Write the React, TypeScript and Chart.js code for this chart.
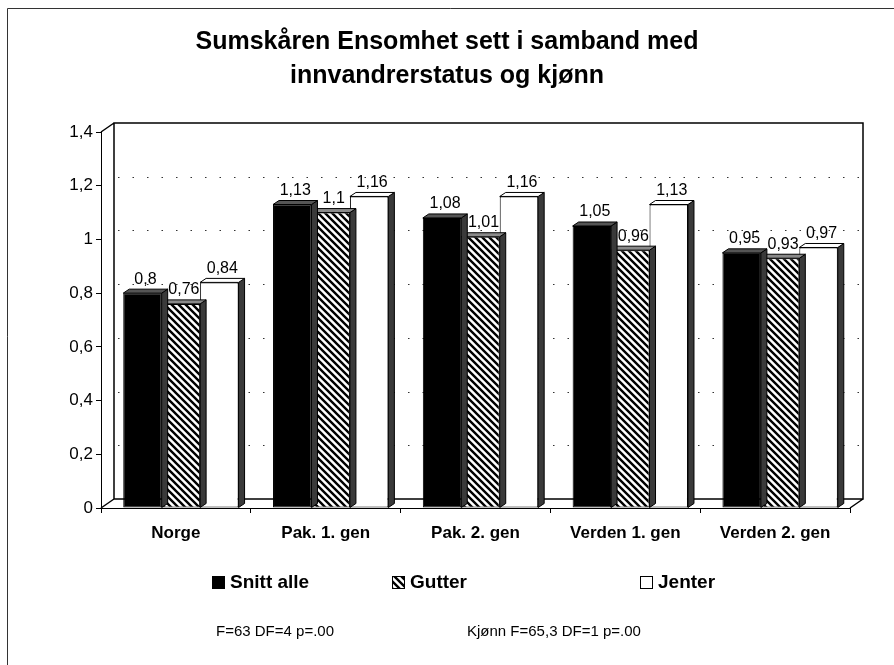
import { useEffect, useRef } from "react";
import { Chart, registerables } from "chart.js";

Chart.register(...registerables);

// ---------- data ----------
const categories = ["Norge", "Pak. 1. gen", "Pak. 2. gen", "Verden 1. gen", "Verden 2. gen"];
const seriesNames = ["Snitt alle", "Gutter", "Jenter"];
const snittAlle = [0.8, 1.13, 1.08, 1.05, 0.95];
const gutter = [0.76, 1.1, 1.01, 0.96, 0.93];
const jenter = [0.84, 1.16, 1.16, 1.13, 0.97];
const yTicks = [0, 0.2, 0.4, 0.6, 0.8, 1, 1.2, 1.4];
const titleLines = ["Sumskåren Ensomhet sett i samband med", "innvandrerstatus og kjønn"];
const footerTexts = ["F=63 DF=4 p=.00", "Kjønn F=65,3 DF=1 p=.00"];

// ---------- style ----------
const FONT = "'Liberation Sans', Arial, Helvetica, sans-serif";
const WALL_DX = 13;
const WALL_DY = -9;
const BAR_DX = 6;
const BAR_DY = -4;
const BAR_SHIFT = 5;
const legendX = [212, 392, 640];
const legendY = 582;
const footerX = [216, 467];
const footerY = 632;

const fmt = (v: number) => String(Number(v.toFixed(2))).replace(".", ",");

function makeHatch(): CanvasPattern | string {
  const s = 7;
  const c = document.createElement("canvas");
  c.width = s;
  c.height = s;
  const g = c.getContext("2d");
  if (!g) return "#888";
  g.fillStyle = "#fff";
  g.fillRect(0, 0, s, s);
  g.strokeStyle = "#000";
  g.lineWidth = 2.4;
  g.beginPath();
  g.moveTo(0, 0);
  g.lineTo(s, s);
  g.moveTo(-2, s - 2);
  g.lineTo(2, s + 2);
  g.moveTo(s - 2, -2);
  g.lineTo(s + 2, 2);
  g.stroke();
  return g.createPattern(c, "repeat") || "#888";
}

export default function App() {
  const ref = useRef<HTMLCanvasElement | null>(null);

  useEffect(() => {
    const canvas = ref.current;
    if (!canvas) return;
    const hatch = makeHatch();
    const fills: any[] = ["#000", hatch, "#fff"];
    const topFills = ["#555", "#8a8a8a", "#fff"];
    const seriesValues = [snittAlle, gutter, jenter];

    const deco = {
      id: "deco3d",
      afterDatasetsUpdate(chart: any) {
        chart.data.datasets.forEach((_: any, i: number) => {
          chart.getDatasetMeta(i).data.forEach((el: any) => {
            el.x += BAR_SHIFT;
          });
        });
      },
      beforeDraw(chart: any) {
        const ctx = chart.ctx as CanvasRenderingContext2D;
        const { left, right, top, bottom } = chart.chartArea;
        ctx.save();
        ctx.fillStyle = "#fff";
        ctx.fillRect(0, 0, chart.width, chart.height);
        // frame
        ctx.strokeStyle = "#333";
        ctx.lineWidth = 1;
        ctx.beginPath();
        ctx.moveTo(7.5, chart.height);
        ctx.lineTo(7.5, 8.5);
        ctx.lineTo(chart.width, 8.5);
        ctx.stroke();
        // walls and floor
        ctx.strokeStyle = "#000";
        ctx.lineWidth = 1.5;
        ctx.beginPath();
        ctx.rect(left + WALL_DX, top + WALL_DY, right - left, bottom - top);
        ctx.moveTo(left, top);
        ctx.lineTo(left + WALL_DX, top + WALL_DY);
        ctx.moveTo(left, bottom);
        ctx.lineTo(left + WALL_DX, bottom + WALL_DY);
        ctx.moveTo(right, bottom);
        ctx.lineTo(right + WALL_DX, bottom + WALL_DY);
        ctx.stroke();
        // dotted gridlines on back wall
        const ys = chart.scales.y;
        ctx.strokeStyle = "#333";
        ctx.lineWidth = 1.2;
        ctx.setLineDash([1.5, 13]);
        ys.ticks.forEach((t: any) => {
          if (t.value <= ys.min || t.value >= ys.max) return;
          const py = Math.round(ys.getPixelForValue(t.value) + WALL_DY) + 0.5;
          ctx.beginPath();
          ctx.moveTo(left + WALL_DX + 4, py);
          ctx.lineTo(right + WALL_DX, py);
          ctx.stroke();
        });
        ctx.restore();
      },
      beforeDatasetDraw(chart: any, args: any) {
        const ctx = chart.ctx as CanvasRenderingContext2D;
        const i = args.index;
        ctx.save();
        ctx.strokeStyle = "#000";
        ctx.lineWidth = 1;
        args.meta.data.forEach((el: any) => {
          const w = el.width;
          const l = el.x - w / 2;
          const r = el.x + w / 2;
          const y = el.y;
          const b = el.base;
          // side face
          ctx.beginPath();
          ctx.moveTo(r, y);
          ctx.lineTo(r + BAR_DX, y + BAR_DY);
          ctx.lineTo(r + BAR_DX, b + BAR_DY);
          ctx.lineTo(r, b);
          ctx.closePath();
          ctx.fillStyle = "#3a3a3a";
          ctx.fill();
          ctx.stroke();
          // top face
          ctx.beginPath();
          ctx.moveTo(l, y);
          ctx.lineTo(l + BAR_DX, y + BAR_DY);
          ctx.lineTo(r + BAR_DX, y + BAR_DY);
          ctx.lineTo(r, y);
          ctx.closePath();
          ctx.fillStyle = topFills[i];
          ctx.fill();
          ctx.stroke();
        });
        ctx.restore();
      },
      afterDatasetsDraw(chart: any) {
        const ctx = chart.ctx as CanvasRenderingContext2D;
        ctx.save();
        ctx.fillStyle = "#000";
        ctx.font = `16px ${FONT}`;
        ctx.textAlign = "center";
        ctx.textBaseline = "bottom";
        chart.data.datasets.forEach((ds: any, i: number) => {
          chart.getDatasetMeta(i).data.forEach((el: any, j: number) => {
            ctx.fillText(fmt(ds.data[j]), el.x + BAR_DX / 2, el.y + BAR_DY - 2);
          });
        });
        ctx.restore();
      },
      afterDraw(chart: any) {
        const ctx = chart.ctx as CanvasRenderingContext2D;
        ctx.save();
        ctx.fillStyle = "#000";
        // title
        ctx.font = `bold 25px ${FONT}`;
        ctx.textAlign = "center";
        ctx.textBaseline = "middle";
        ctx.fillText(titleLines[0], 447, 42);
        ctx.fillText(titleLines[1], 447, 76);
        // legend
        ctx.textAlign = "left";
        ctx.font = `bold 19px ${FONT}`;
        chart.data.datasets.forEach((ds: any, i: number) => {
          const x = legendX[i];
          ctx.fillStyle = ds.backgroundColor;
          ctx.fillRect(x, legendY - 6, 13, 13);
          ctx.strokeStyle = "#000";
          ctx.lineWidth = 1;
          ctx.strokeRect(x + 0.5, legendY - 5.5, 12, 12);
          ctx.fillStyle = "#000";
          ctx.fillText(ds.label, x + 18, legendY + 1);
        });
        // footer
        ctx.font = `15px ${FONT}`;
        footerTexts.forEach((t, k) => ctx.fillText(t, footerX[k], footerY));
        ctx.restore();
      },
    };

    const chart = new Chart(canvas, {
      type: "bar",
      data: {
        labels: categories,
        datasets: seriesNames.map((name, i) => ({
          label: name,
          data: seriesValues[i],
          backgroundColor: fills[i],
          borderColor: "#000",
          borderWidth: 1,
          borderSkipped: false,
          categoryPercentage: 0.77,
          barPercentage: 1.0,
        })),
      },
      options: {
        responsive: false,
        animation: false,
        events: [],
        layout: { padding: { left: 61, right: 44, top: 132, bottom: 117 } },
        plugins: {
          legend: { display: false },
          title: { display: false },
          tooltip: { enabled: false },
        },
        scales: {
          x: {
            grid: { drawOnChartArea: false, drawTicks: true, tickLength: 5, color: "#000", offset: true },
            border: { color: "#000", width: 1 },
            ticks: { color: "#000", font: { family: FONT, size: 17, weight: "bold" }, padding: 10, maxRotation: 0, autoSkip: false },
            afterFit: (s: any) => {
              s.height = 40;
            },
          },
          y: {
            min: 0,
            max: 1.4,
            afterBuildTicks: (s: any) => {
              s.ticks = yTicks.map((v) => ({ value: v }));
            },
            grid: { drawOnChartArea: false, drawTicks: true, tickLength: 5, color: "#000" },
            border: { color: "#000", width: 1 },
            ticks: { color: "#000", font: { family: FONT, size: 17 }, padding: 3, callback: (v: any) => fmt(Number(v)) },
            afterFit: (s: any) => {
              s.width = 40;
            },
          },
        },
      },
      plugins: [deco],
    } as any);

    return () => chart.destroy();
  }, []);

  return (
    <div style={{ position: "absolute", left: 0, top: 0, width: 894, height: 665, background: "#fff" }}>
      <canvas ref={ref} width={894} height={665} style={{ width: 894, height: 665, display: "block" }} />
    </div>
  );
}
